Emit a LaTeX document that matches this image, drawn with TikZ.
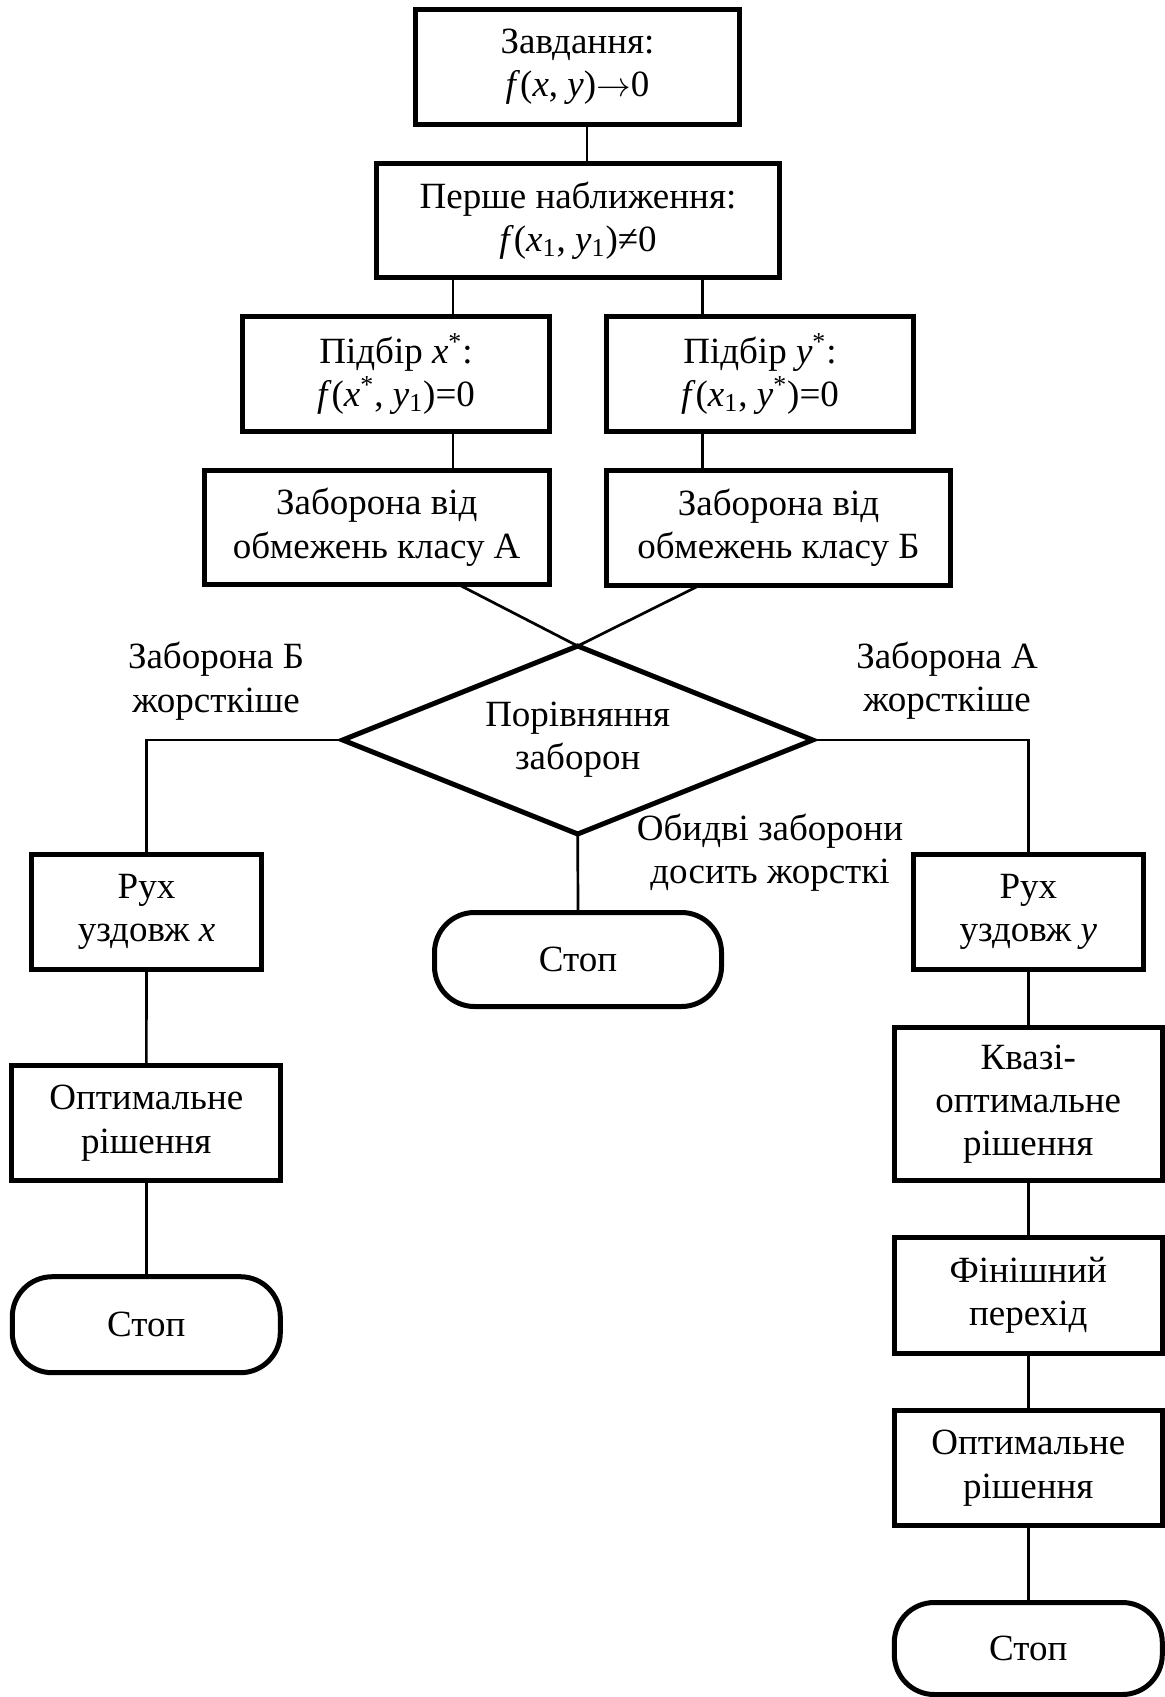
\documentclass[tikz,border=0pt]{standalone}
\usepackage{fontspec}
\setmainfont{Liberation Serif}
\usetikzlibrary{shapes.geometric}
\tikzset{
  txt/.style={font=\fontsize{18.5}{21.65}\selectfont, align=center},
  blk/.style={txt, draw, line width=2.5pt, inner sep=0pt, outer sep=0pt},
  term/.style={blk, rounded corners=20pt},
  dec/.style={txt, draw, diamond, line width=2.5pt, inner sep=0pt, outer sep=0pt, aspect=2.5},
  sz/.style 2 args={minimum width=#1*0.5pt, minimum height=#2*0.5pt},
  link/.style={line width=1.35pt}
}
\begin{document}
\begin{tikzpicture}[x=0.5pt,y=-0.5pt]
\fill[white] (0,0) rectangle (1165,1697);
\useasboundingbox (0,0) rectangle (1165,1697);

% blocks
\node[blk, sz={324}{115}] (task) at (577.5,67) {Завдання:\\\textit{f}(\textit{x}, \textit{y})$\rightarrow$0};
\node[blk, sz={403}{114}] (first) at (578,220.5) {Перше наближення:\\\textit{f}(\textit{x}\textsubscript{1}, \textit{y}\textsubscript{1})≠0};
\node[blk, sz={307}{115}] (selx) at (396,374) {Підбір \textit{x}\textsuperscript{*}:\\\textit{f}(\textit{x}\textsuperscript{*}, \textit{y}\textsubscript{1})=0};
\node[blk, sz={307}{115}] (sely) at (760,374) {Підбір \textit{y}\textsuperscript{*}:\\\textit{f}(\textit{x}\textsubscript{1}, \textit{y}\textsuperscript{*})=0};
\node[blk, sz={345}{114}] (banA) at (376.7,527.3) {Заборона від\\обмежень класу А};
\node[blk, sz={344}{115}] (banB) at (778.5,527.7) {Заборона від\\обмежень класу Б};
\node[dec, sz={470}{188}] (cmp) at (577.7,740) {Порівняння\\заборон};
\node[blk, sz={230}{115}] (movx) at (146.5,912) {Рух\\уздовж \textit{x}};
\node[blk, sz={230}{115}] (movy) at (1028.3,912) {Рух\\уздовж \textit{y}};
\node[term, sz={287}{94}] (stopc) at (578,959.5) {Стоп};
\node[blk, sz={269}{115}] (optx) at (146.3,1123.3) {Оптимальне\\рішення};
\node[term, sz={268}{96}] (stopx) at (146.3,1324.7) {Стоп};
\node[blk, sz={268}{153}] (quasi) at (1028.3,1104) {Квазі-\\оптимальне\\рішення};
\node[blk, sz={268}{116}] (finish) at (1028.3,1295.5) {Фінішний\\перехід};
\node[blk, sz={268}{115}] (opty) at (1028.3,1468.3) {Оптимальне\\рішення};
\node[term, sz={268}{92}] (stopy) at (1028.3,1648.5) {Стоп};

% branch labels (base anchor sits on the last line)
\node[txt, anchor=base] (lblB) at (216,712) {Заборона Б\\жорсткіше};
\node[txt, anchor=base] (lblA) at (947,711.7) {Заборона А\\жорсткіше};
\node[txt, anchor=base] (lblC) at (770,883.3) {Обидві заборони\\досить жорсткі};

% connector columns
\coordinate (xm) at (587,0);
\coordinate (xl) at (453,0);
\coordinate (xr) at (702.7,0);
\coordinate (dl) at (458,0);
\coordinate (dr) at (700,0);

\draw[link] (task.south -| xm) -- (first.north -| xm);
\draw[link] (first.south -| xl) -- (selx.north -| xl);
\draw[link] (selx.south -| xl) -- (banA.north -| xl);
\draw[link] (first.south -| xr) -- (sely.north -| xr);
\draw[link] (sely.south -| xr) -- (banB.north -| xr);
\draw[link] (banA.south -| dl) -- (cmp.north);
\draw[link] (banB.south -| dr) -- (cmp.north);
\draw[link] (cmp.west) -| (movx.north);
\draw[link] (cmp.east) -| (movy.north);
\draw[link] (cmp.south) -- (stopc.north);
\draw[link] (movx) -- (optx);
\draw[link] (optx) -- (stopx);
\draw[link] (movy) -- (quasi);
\draw[link] (quasi) -- (finish);
\draw[link] (finish) -- (opty);
\draw[link] (opty) -- (stopy);
\end{tikzpicture}
\end{document}
